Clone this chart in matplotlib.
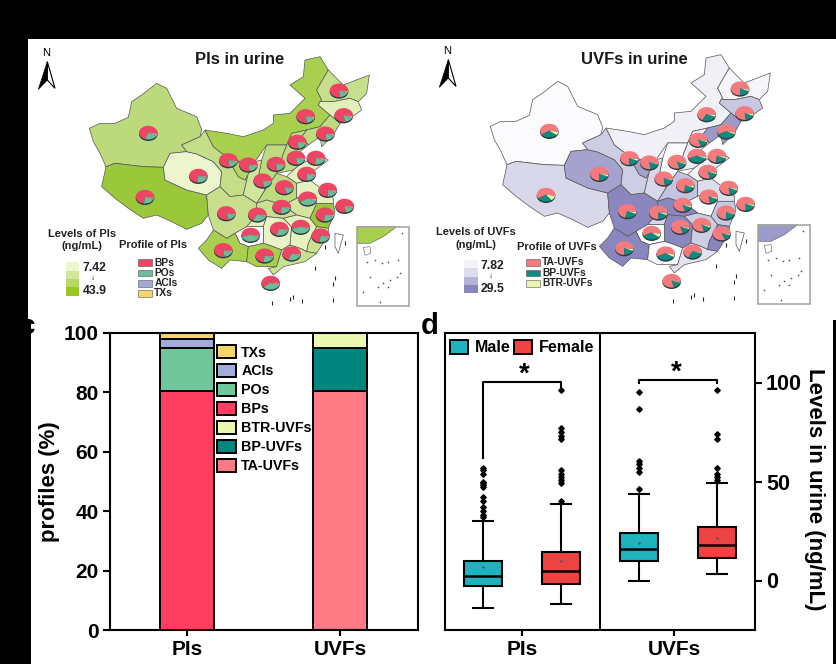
import matplotlib
matplotlib.use('Agg')
import matplotlib.pyplot as plt
from matplotlib.patches import Polygon, Rectangle, Patch, Ellipse
from matplotlib.transforms import Affine2D, ScaledTranslation
import numpy as np

plt.rcParams['font.family'] = ['Liberation Sans', 'DejaVu Sans']
plt.rcParams['font.weight'] = 'bold'
plt.rcParams['axes.labelweight'] = 'bold'

W, H = 837, 664

# --- map data, outlines (3x zoom coordinates)
province_names = ['Xinjiang', 'Tibet', 'Qinghai', 'Gansu', 'Ningxia', 'InnerMongolia', 'Heilongjiang',
                  'Jilin', 'Liaoning', 'Hebei', 'Shandong', 'Shanxi', 'Shaanxi', 'Henan', 'Jiangsu',
                  'Anhui', 'Hubei', 'Sichuan', 'Chongqing', 'Hunan', 'Jiangxi', 'Zhejiang', 'Fujian',
                  'Guizhou', 'Yunnan', 'Guangxi', 'Guangdong', 'Hainan', 'Taiwan']
province_outlines = [
    [(268,295),(300,280),(345,280),(385,262),(395,215),(425,195),(470,160),(500,175),(530,235),(590,260),(605,298),(600,320),(545,345),(560,365),(510,370),(490,412),(430,410),(345,400),(318,410),(300,370),(280,335)],
    [(318,410),(345,400),(430,410),(490,412),(495,450),(560,480),(620,495),(625,555),(605,580),(560,598),(515,575),(470,555),(430,565),(385,535),(345,505),(305,470)],
    [(510,370),(560,365),(590,372),(640,395),(665,425),(660,470),(620,495),(560,480),(495,450),(490,412)],
    [(545,345),(600,320),(615,300),(640,350),(665,370),(720,395),(695,405),(715,440),(735,450),(745,430),(730,495),(690,500),(660,470),(665,425),(640,395),(590,372),(560,365)],
    [(720,395),(745,385),(750,425),(735,450),(715,440),(695,405)],
    [(615,300),(680,310),(730,320),(790,300),(820,280),(820,255),(870,250),(915,205),(870,165),(910,140),(915,90),(960,80),(985,120),(950,180),(965,210),(955,225),(990,255),(960,290),(920,300),(875,310),(860,345),(800,345),(765,395),(745,385),(720,395),(665,370),(640,350)],
    [(985,120),(1030,165),(1108,135),(1100,190),(1075,215),(1050,205),(1000,215),(960,215),(965,210),(950,180)],
    [(960,215),(1000,215),(1050,205),(1075,215),(1085,240),(1050,265),(1020,280),(990,255),(955,225)],
    [(990,255),(1020,280),(1000,315),(965,350),(960,320),(925,345),(905,320),(920,300),(960,290)],
    [(875,310),(920,300),(905,320),(925,345),(900,365),(905,400),(880,420),(830,430),(850,370),(860,345)],
    [(905,400),(960,375),(985,390),(945,420),(930,450),(890,460),(860,440),(880,420)],
    [(800,345),(860,345),(850,370),(830,430),(795,480),(775,440),(785,390)],
    [(765,395),(785,390),(775,440),(795,480),(770,520),(730,495),(745,430),(750,425),(745,385)],
    [(795,480),(830,430),(860,440),(890,460),(890,505),(850,525),(800,510),(770,520)],
    [(890,460),(930,450),(1000,505),(1000,520),(950,520),(925,490),(890,505)],
    [(890,505),(925,490),(950,520),(930,565),(890,555),(870,540),(850,525)],
    [(770,520),(800,510),(850,525),(870,540),(890,555),(850,565),(800,560),(770,555)],
    [(620,495),(660,470),(690,500),(730,495),(770,520),(770,555),(740,590),(705,610),(680,625),(640,600),(625,555)],
    [(770,555),(800,560),(790,590),(740,590)],
    [(800,560),(850,565),(875,590),(870,645),(845,660),(820,650),(790,640),(790,590)],
    [(850,565),(890,555),(930,565),(950,590),(925,640),(920,665),(900,655),(870,645),(875,590)],
    [(950,520),(1000,520),(1005,545),(985,595),(950,590),(930,565)],
    [(950,590),(985,595),(985,615),(950,670),(920,665),(925,640)],
    [(740,590),(790,590),(790,640),(745,650),(720,640),(705,610)],
    [(640,600),(680,625),(705,610),(720,640),(745,650),(740,695),(690,690),(665,715),(625,690),(595,655),(620,630)],
    [(745,650),(790,640),(820,650),(845,660),(830,710),(770,710),(740,695)],
    [(845,660),(870,645),(900,655),(920,665),(950,670),(915,695),(850,710),(820,735),(805,715),(830,710)],
    [(795,750),(830,745),(835,770),(805,780)],
    [(1005,610),(1030,615),(1015,670),(1005,650)],
]
pi_shades = ['#BCD97C', '#9BC83A', '#EDF5CF', '#C3DD88', '#B4D568', '#A8D04E', '#C6DF8C',
             '#E2EFB8', '#BEDB80', '#BEDB80', '#E6F1C0', '#BEDB80', '#D2E59C', '#BEDB80', '#E6F1C0',
             '#D2E59C', '#CBE192', '#C8DF8E', '#E6F1C0', '#E8F2C4', '#E6F1C0', '#9BC83A', '#CBE192',
             '#FFFFFF', '#A8D04E', '#A8D04E', '#CBE192', '#FFFFFF', '#FFFFFF']
uvf_shades = ['#FBFBFD', '#D8D8EA', '#A5A3CE', '#CDCDE3', '#A5A3CE', '#F0F0F6', '#F5F5FA',
              '#C8C8E2', '#9C9AC9', '#EDEDF4', '#F2F2F8', '#FBFBFD', '#D8D8EA', '#C3C3DF', '#DDDDEC',
              '#FBFBFD', '#8A87BE', '#8A87BE', '#D8D8EA', '#8A87BE', '#CDCDE3', '#C8C8E2', '#8A87BE',
              '#FFFFFF', '#8A87BE', '#FBFBFD', '#E3E3EF', '#FFFFFF', '#FFFFFF']

pie_x = [445, 435, 595, 685, 745, 788, 828, 892, 917, 1017, 1031, 976, 888, 948, 920, 853, 983, 923,
         1034, 975, 845, 772, 679, 752, 838, 902, 962, 670, 794, 875, 812]
pie_y = [308, 500, 437, 390, 403, 451, 401, 335, 258, 181, 255, 310, 383, 383, 431, 471, 479, 505,
         527, 553, 530, 553, 549, 614, 596, 590, 616, 660, 676, 670, 758]
pi_bps = [72, 76, 76, 80, 80, 80, 80, 80, 80, 80, 80, 80, 80, 76, 78, 82, 78, 62,
          80, 76, 76, 70, 82, 58, 72, 58, 76, 80, 76, 72, 64]
pi_pos = [22, 20, 20, 15, 15, 15, 15, 15, 15, 15, 15, 15, 15, 18, 16, 14, 16, 32,
          15, 20, 20, 26, 14, 38, 24, 38, 20, 15, 20, 24, 30]
uvf_ta = [62, 62, 78, 78, 80, 80, 82, 82, 70, 78, 80, 60, 60, 76, 82, 76, 80, 80,
          78, 78, 82, 78, 74, 60, 82, 82, 84, 78, 60, 70, 82]
uvf_bp = [30, 26, 18, 18, 18, 18, 15, 15, 26, 18, 16, 36, 36, 20, 15, 20, 16, 16,
          18, 20, 14, 18, 22, 32, 15, 14, 14, 18, 34, 28, 16]

island_x = [1005, 1000, 945, 815, 1000, 870, 905, 880, 975, 1035]
island_y = [745, 762, 715, 820, 810, 808, 812, 800, 650, 640]
inset_island_x = [1100, 1125, 1145, 1165, 1195, 1110, 1090, 1150, 1170, 1190, 1200, 1140, 1135, 1205, 1165]
inset_island_y = [695, 690, 700, 695, 690, 740, 785, 760, 750, 740, 730, 815, 770, 610, 770]
inset_land = [(1072,590),(1190,590),(1150,620),(1110,640),(1072,640)]
inset_hainan = [(1090,652),(1110,650),(1112,670),(1095,676)]

# --- stacked bars
bar_groups = ['PIs', 'UVFs']
bps = [80.5, 0]
pos = [14.5, 0]
acis = [3, 0]
txs = [2, 0]
ta_uvfs = [0, 80.5]
bp_uvfs = [0, 14.5]
btr_uvfs = [0, 5]

# --- box plots (male PIs, female PIs, male UVFs, female UVFs)
box_low = [-14, -12, 0, 3.5]
box_q1 = [-3, -2, 9.6, 11.3]
box_med = [2.4, 5, 16, 17.8]
box_q3 = [10, 14.5, 24, 27]
box_high = [30, 38.7, 43.6, 49]
box_mean = [6.6, 10, 19, 21.7]
box_fliers = [
    [57, 56, 54, 50, 49, 48, 47, 42, 40, 37, 35, 33, 32],
    [96, 77, 75, 73, 71.5, 56, 54, 52.5, 51, 49, 40],
    [95.3, 86.4, 60.4, 59, 57, 55, 46],
    [96, 74, 71.5, 56.7, 54, 52.5, 51],
]
box_colors = ['#1FB3BF', '#EE4343', '#1FB3BF', '#EE4343']


def px_axes(x0, y0, x1, y1, **kw):
    # axes placed by reference pixels (y down)
    return fig.add_axes([x0 / W, 1 - y1 / H, (x1 - x0) / W, (y1 - y0) / H], **kw)


fig = plt.figure(figsize=(W / 100, H / 100), dpi=100, facecolor='black')

bg = px_axes(0, 0, W, H)
bg.set_xlim(0, W)
bg.set_ylim(H, 0)
bg.axis('off')
bg.add_patch(Rectangle((28, 39), W - 28, 281, fc='white', ec='none'))
bg.add_patch(Rectangle((31, 318), W - 35, H - 318, fc='white', ec='none'))
bg.text(35.5, 327, 'c', fontsize=20, ha='right', va='center', color='black')
bg.text(421, 326, 'd', fontsize=21, ha='left', va='center', color='black')
bg.text(815, 489, 'Levels in urine (ng/mL)', fontsize=16, rotation=270, ha='center', va='center')


def draw_map(ax, off, shades, colors, fr1, fr2, title, title_xy, level_title, level_xy, ramp_xy, ramp,
             lo, hi, prof_title, prof_xy, prof_names, prof_colors, swatch_x, swatch_ys):
    ox, oy = off
    for outline, shade in zip(province_outlines, shades):
        pts = np.array(outline, dtype=float) + (ox, oy)
        ax.add_patch(Polygon(pts, closed=True, fc=shade, ec='#555555', lw=0.5, joinstyle='round'))

    # small islands
    ax.scatter(np.array(island_x) + ox, np.array(island_y) + oy, s=5, marker='|', c='#222222', lw=0.8)

    # inset box
    ix, iy = 1070 + ox, 590 + oy
    ax.add_patch(Polygon(np.array(inset_land) + (ox, oy), fc=shades[25] if shades is pi_shades else shades[8],
                         ec='#555555', lw=0.4))
    ax.add_patch(Polygon(np.array(inset_hainan) + (ox, oy), fc='white', ec='#555555', lw=0.4))
    ax.scatter(np.array(inset_island_x) + ox, np.array(inset_island_y) + oy, s=1.5, c='#555555', lw=0)
    ax.add_patch(Rectangle((ix, iy), 157, 238, fc='none', ec='#A8A8A8', lw=1.2))

    # pies, squashed to look tilted
    for cx, cy, a, b in zip(pie_x, pie_y, fr1, fr2):
        cx, cy = cx + ox, cy + oy
        rest = 100 - a - b
        vals = [a, b] + ([rest * 0.6, rest * 0.4] if len(colors) == 4 else [rest])
        ax.add_patch(Ellipse((cx, cy + 4), 56, 42, fc='#2E3A40', ec='none', zorder=3))
        wedges, _ = ax.pie(vals, colors=colors, center=(cx, cy), radius=27.5, startangle=10,
                           counterclock=False, frame=True, wedgeprops={'linewidth': 0, 'zorder': 4})
        squash = Affine2D().translate(-cx, -cy).scale(1, 0.75).translate(cx, cy) + ax.transData
        for w in wedges:
            w.set_transform(squash)

    # north arrow
    ax.text(138 + ox, 68 + oy, 'N', fontsize=8, fontweight='normal', ha='center', va='center')
    ax.add_patch(Polygon(np.array([(142,95),(142,150),(115,178)]) + (ox, oy), fc='black', ec='black', lw=0.5))
    ax.add_patch(Polygon(np.array([(142,95),(165,175),(142,150)]) + (ox, oy), fc='white', ec='black', lw=0.8))

    ax.text(*title_xy, title, fontsize=12, ha='center', va='center', color='#1a1a1a')
    ax.text(*level_xy, level_title, fontsize=8, ha='center', va='center', linespacing=1.35, color='#222222')
    ax.text(*prof_xy, prof_title, fontsize=8, ha='center', va='center', color='#222222')

    rx, ry = ramp_xy
    step = 100 / len(ramp)
    for i, c in enumerate(ramp):
        ax.add_patch(Rectangle((rx, ry + i * step), 40, step, fc=c, ec='none'))
    ax.text(rx + 50, ry + 18, lo, fontsize=8.8, va='center', color='#222222')
    ax.text(rx + 80, ry + 50, '↓', fontsize=6, ha='center', va='center', fontweight='normal', color='#222222')
    ax.text(rx + 50, ry + 87, hi, fontsize=8.8, va='center', color='#222222')

    for name, c, y in zip(prof_names, prof_colors, swatch_ys):
        ax.add_patch(Rectangle((swatch_x, y - 10), 42, 20, fc=c, ec='#555555', lw=0.4))
        ax.text(swatch_x + 48, y, name, fontsize=7.4, va='center', color='#222222')

    ax.set_xlim(ax.map_xlim)
    ax.set_ylim(900, 0)
    ax.set_aspect('auto')
    ax.axis('off')


ax_a = px_axes(0, 30, 420, 330, facecolor='none')
ax_a.map_xlim = (0, 1260)
draw_map(ax_a, (0, 0), pi_shades, ['#EF4565', '#69BE9A', '#A0A8D8', '#F5D76E'], pi_bps, pi_pos,
         'PIs in urine', (718, 90), 'Levels of PIs\n(ng/mL)', (245, 630), (198, 697),
         ['#EEF6D0', '#D3E79C', '#B5D867', '#96C524'], '7.42', '43.9',
         'Profile of PIs', (460, 646), ['BPs', 'POs', 'ACIs', 'TXs'],
         ['#EF4565', '#69BE9A', '#A0A8D8', '#F5D76E'], 415, [698, 729, 760, 790])

ax_b = px_axes(420, 30, 837, 330, facecolor='none')
ax_b.map_xlim = (0, 1251)
draw_map(ax_b, (-57, -6), uvf_shades, ['#F47A7E', '#0F8A80', '#E8F5B0'], uvf_ta, uvf_bp,
         'UVFs in urine', (643, 90), 'Levels of UVFs\n(ng/mL)', (168, 625), (133, 690),
         ['#F2F2F8', '#DCDCEB', '#B5B4D8', '#8A87BE'], '7.82', '29.5',
         'Profile of UVFs', (410, 652), ['TA-UVFs', 'BP-UVFs', 'BTR-UVFs'],
         ['#F47A7E', '#0F8A80', '#E8F5B0'], 318, [697, 729, 760])

# --- panel c
ax_c = px_axes(110, 333, 418, 630)
x = np.array([1, 2])
bottom = np.zeros(2)
series = [(bps, '#FF3E62', 'BPs'), (pos, '#72C69B', 'POs'), (acis, '#A3ABDB', 'ACIs'), (txs, '#F7D56B', 'TXs'),
          (ta_uvfs, '#FF7A84', 'TA-UVFs'), (bp_uvfs, '#00857F', 'BP-UVFs'), (btr_uvfs, '#EAF7AE', 'BTR-UVFs')]
for vals, color, name in series:
    ax_c.bar(x, vals, 0.35, bottom=bottom, color=color, edgecolor='black', linewidth=1.4)
    bottom = bottom + np.array(vals)
ax_c.set_xlim(0.497, 2.51)
ax_c.set_ylim(0, 100)
ax_c.set_xticks(x, bar_groups, fontsize=15)
ax_c.set_yticks([0, 20, 40, 60, 80, 100])
ax_c.tick_params(axis='y', labelsize=15, width=1.5, length=5, pad=3)
ax_c.tick_params(axis='x', width=1.5, length=4, pad=3)
ax_c.set_ylabel('profiles (%)', fontsize=16, labelpad=3)
for s in ax_c.spines.values():
    s.set_linewidth(1.5)
leg_order = ['TXs', 'ACIs', 'POs', 'BPs', 'BTR-UVFs', 'BP-UVFs', 'TA-UVFs']
lookup = {n: c for _, c, n in series}
ax_c.legend([Patch(fc=lookup[n], ec='black', lw=1.4) for n in leg_order], leg_order,
            loc='upper left', bbox_to_anchor=(217 / W, 1 - 345 / H), bbox_transform=fig.transFigure,
            frameon=False, fontsize=10.3, borderpad=0, borderaxespad=0, labelspacing=0.31,
            handlelength=1.33, handleheight=1.05, handletextpad=0.36)

# --- panel d
ax_d = px_axes(445, 333, 755, 630)
stats = []
for i in range(4):
    stats.append({'whislo': box_low[i], 'q1': box_q1[i], 'med': box_med[i], 'q3': box_q3[i],
                  'whishi': box_high[i], 'mean': box_mean[i], 'fliers': box_fliers[i]})
parts = ax_d.bxp(stats, positions=[1, 2, 3, 4], widths=0.48, patch_artist=True, showmeans=True,
                 capwidths=0.26,
                 boxprops={'linewidth': 1.5, 'edgecolor': 'black'},
                 medianprops={'color': 'black', 'linewidth': 1.8},
                 whiskerprops={'color': 'black', 'linewidth': 1.5},
                 capprops={'color': 'black', 'linewidth': 1.5},
                 meanprops={'marker': '.', 'markersize': 1.5, 'markerfacecolor': '#555555', 'markeredgecolor': '#555555'},
                 flierprops={'marker': 'D', 'markersize': 2.8, 'markerfacecolor': 'black', 'markeredgecolor': 'black'})
for patch, color in zip(parts['boxes'], box_colors):
    patch.set_facecolor(color)
ax_d.axvline(2.5, color='black', lw=1.5)
ax_d.set_xlim(0.513, 4.487)
ax_d.set_ylim(-25, 125)
ax_d.set_xticks([1.5, 3.45], bar_groups, fontsize=15)
# PIs label sits a little right of its tick in the original
lab = ax_d.get_xticklabels()[0]
lab.set_transform(lab.get_transform() + ScaledTranslation(4 / 100, 0, fig.dpi_scale_trans))
ax_d.yaxis.tick_right()
ax_d.set_yticks([0, 50, 100])
ax_d.tick_params(axis='y', labelsize=15.5, width=1.5, length=5, pad=3)
ax_d.tick_params(axis='x', width=1.5, length=4, pad=3)
for s in ax_d.spines.values():
    s.set_linewidth(1.5)

# significance brackets
ax_d.plot([1, 1, 2, 2], [62, 100.5, 100.5, 96], color='black', lw=1.5, solid_joinstyle='round')
ax_d.plot([3, 3, 4, 4], [99.5, 101.3, 101.3, 99.5], color='black', lw=1.5)
ax_d.text(1.53, 104, '*', fontsize=20, ha='center', va='center')
ax_d.text(3.48, 105, '*', fontsize=20, ha='center', va='center')

ax_d.legend([Patch(fc=box_colors[0], ec='black', lw=1.4), Patch(fc=box_colors[1], ec='black', lw=1.4)],
            ['Male', 'Female'], ncol=2, loc='upper left', bbox_to_anchor=(450 / W, 1 - 340 / H),
            bbox_transform=fig.transFigure, frameon=False, fontsize=11.5, borderpad=0, borderaxespad=0,
            handlelength=1.13, handleheight=0.95, handletextpad=0.42, columnspacing=0.2)

fig.savefig('out.png', dpi=100, facecolor='black')
